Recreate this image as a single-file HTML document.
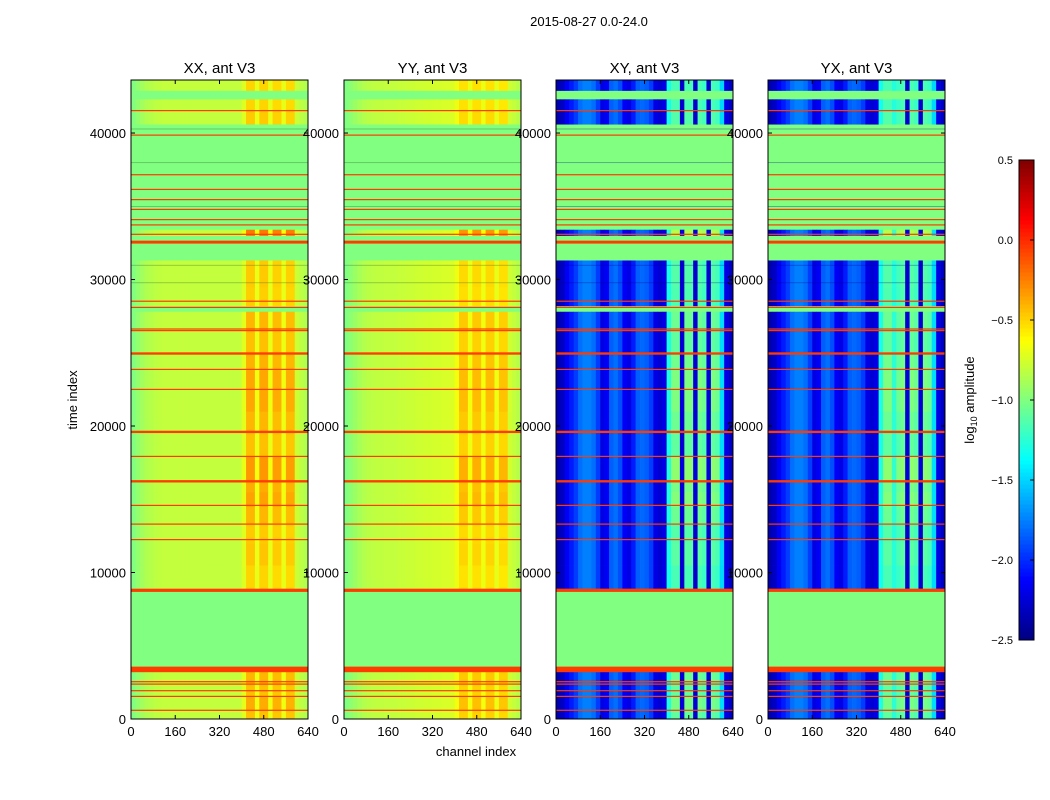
<!DOCTYPE html>
<html><head><meta charset="utf-8"><style>
body{margin:0;background:#fff;}
svg{display:block;font-family:"Liberation Sans",sans-serif;}
</style></head><body>
<svg id="chart" width="1050" height="800" viewBox="0 0 1050 800" xmlns="http://www.w3.org/2000/svg">
<rect width="1050" height="800" fill="#fff"/>
<text x="589" y="26" font-size="13" text-anchor="middle">2015-08-27 0.0-24.0</text>
<text x="476" y="756" font-size="13" text-anchor="middle">channel index</text>
<text x="77" y="400" font-size="13" text-anchor="middle" transform="rotate(-90 77 400)">time index</text>
<g id="panels"></g>
<g id="cbar"></g>
</svg>
<script>
// ---- data ----
const panelTitles = ["XX, ant V3","YY, ant V3","XY, ant V3","YX, ant V3"];
const segStart = [0,600,1500,2400,3600,8900,10500,12000,13300,14500,15500,16200,17900,19600,21000,23800,25000,26500,27800,28200,29500,31300,33000,33400,40600,41500,42300,42900];
const segEnd   = [600,1500,2400,3300,8700,10500,12000,13300,14500,15500,16200,17900,19600,21000,23800,25000,26500,27800,28200,29500,31300,33000,33400,40600,41500,42300,42900,43620];
const segAct   = [0.6,0.8,0.6,0.7,null,0.4,0.55,0.5,0.7,0.9,0.8,1.0,0.6,0.7,0.85,0.75,0.6,0.7,null,0.45,0.5,null,1.3,null,0.5,0.4,null,0.4];
const redLines = [594,1543,1932,2382,2546,3270,3450,8785,12246,13304,14581,16225,17925,19598,22499,23864,24949,26512,26621,28096,28519,32553,33086,33728,34089,34786,35455,36151,37154,39857,41530];
const redWidth = [70,70,70,70,70,150,250,220,70,70,70,160,70,160,70,70,160,70,70,70,70,200,70,70,70,70,70,70,70,70,70];
const darkLines = [31000,29800,35000,38000,40300];
// channel profiles (40 bins of 16 channels): quiet level and hot-column weight
const profXX = [-1.0,-0.95,-0.9,-0.86,-0.84,-0.82,-0.81,-0.8,-0.8,-0.8,-0.8,-0.8,-0.8,-0.8,-0.8,-0.8,-0.8,-0.8,-0.8,-0.8,-0.8,-0.8,-0.8,-0.8,-0.8,-0.75,-0.62,-0.62,-0.72,-0.62,-0.62,-0.72,-0.64,-0.64,-0.72,-0.64,-0.64,-0.8,-0.82,-0.85];
const profYY = [-1.0,-0.96,-0.92,-0.88,-0.85,-0.83,-0.82,-0.81,-0.81,-0.8,-0.8,-0.8,-0.79,-0.79,-0.78,-0.78,-0.77,-0.77,-0.76,-0.76,-0.75,-0.75,-0.74,-0.74,-0.73,-0.7,-0.64,-0.64,-0.7,-0.64,-0.64,-0.7,-0.64,-0.64,-0.72,-0.66,-0.66,-0.78,-0.8,-0.84];
const profXY = [-2.35,-2.3,-2.15,-2.05,-1.95,-1.8,-1.75,-1.75,-1.8,-1.95,-2.2,-2.15,-1.85,-1.8,-1.9,-2.15,-2.2,-2.05,-1.85,-1.82,-1.85,-1.95,-2.2,-2.25,-2.2,-1.35,-1.3,-1.3,-2.3,-1.3,-1.3,-2.3,-1.3,-1.35,-2.3,-1.3,-1.35,-1.5,-2.2,-2.3];
const profYX = [-2.35,-2.3,-2.15,-2.05,-1.95,-1.8,-1.75,-1.75,-1.8,-1.95,-2.2,-2.15,-1.85,-1.8,-1.9,-2.15,-2.2,-2.05,-1.85,-1.82,-1.85,-1.95,-2.2,-2.25,-2.2,-1.35,-1.3,-1.3,-1.3,-1.35,-1.3,-2.3,-1.3,-1.35,-2.3,-1.3,-1.35,-1.5,-2.2,-2.3];
const hotW = [0,0,0,0,0,0,0,0,0,0,0,0,0,0,0,0,0,0,0,0,0,0,0,0,0,0.2,1,1,0.2,1,1,0.2,1,1,0.2,1,1,0.1,0,0];
const hotAmp = [0.3,0.25,0.35,0.35];
const xTicks = [0,160,320,480,640];
const yTicks = [0,10000,20000,30000,40000];
const cbTicks = [0.5,0.0,-0.5,-1.0,-1.5,-2.0,-2.5];
// ---- layout ----
const panelX = [131,344,556,768], PW=177, PT=80, PB=719, TMAX=43620, NCH=640;
const VMIN=-2.5, VMAX=0.5;
const NS="http://www.w3.org/2000/svg";
function jet(v){let n=(v-VMIN)/(VMAX-VMIN);n=Math.max(0,Math.min(1,n));
 const c=x=>Math.round(255*Math.max(0,Math.min(1,x)));
 return `rgb(${c(1.5-Math.abs(4*n-3))},${c(1.5-Math.abs(4*n-2))},${c(1.5-Math.abs(4*n-1))})`;}
const ys=t=>PB-t*(PB-PT)/TMAX;
function mk(tag,attrs,parent){const e=document.createElementNS(NS,tag);for(const k in attrs)e.setAttribute(k,attrs[k]);parent.appendChild(e);return e;}
const profs=[profXX,profYY,profXY,profYX];
const root=document.getElementById('panels');
panelX.forEach((x0,p)=>{
 const xs=c=>x0+c*PW/NCH;
 const g=mk('g',{},root);
 
 
 mk('rect',{x:x0,y:PT,width:PW,height:PB-PT,fill:jet(-1.0)},g);
 const prof=profs[p], nb=prof.length, bw=NCH/nb;
 segStart.forEach((s,i)=>{
  const a=segAct[i]; if(a===null) return;
  const y1=ys(segEnd[i]), y0=ys(s);
  for(let b=0;b<nb;b++){
   const v=prof[b]+hotW[b]*a*hotAmp[p];
   const r=mk('rect',{x:xs(b*bw).toFixed(2),y:y1.toFixed(2),width:(xs((b+1)*bw)-xs(b*bw)+0.3).toFixed(2),height:(y0-y1+0.3).toFixed(2),fill:jet(v)},g);
   
   
  }
 });
 darkLines.forEach(t=>{const l=mk('rect',{x:x0,y:ys(t),width:PW,height:0.7,fill:p>=2?'#00008f':'#2a5a2a',opacity:0.45},g);
  });
 redLines.forEach((t,i)=>{const h=Math.max(1.2,redWidth[i]*(PB-PT)/TMAX);
  const l=mk('rect',{x:x0,y:(ys(t)-h/2).toFixed(2),width:PW,height:h.toFixed(2),fill:jet(-0.05)},g);
  });
 mk('rect',{x:x0,y:PT,width:PW,height:PB-PT,fill:'none',stroke:'#000','stroke-width':1},g);
 const tt=mk('text',{x:x0+PW/2,y:73,'font-size':15,'text-anchor':'middle'},g);tt.textContent=panelTitles[p];
 
 xTicks.forEach(c=>{const X=xs(c);
  mk('line',{x1:X,x2:X,y1:PB,y2:PB-4,stroke:'#000'},g);mk('line',{x1:X,x2:X,y1:PT,y2:PT+4,stroke:'#000'},g);
  const t=mk('text',{x:X,y:PB+17,'font-size':13,'text-anchor':'middle'},g);t.textContent=c;
  });
 yTicks.forEach(v=>{const Y=ys(v);
  mk('line',{x1:x0,x2:x0+4,y1:Y,y2:Y,stroke:'#000'},g);mk('line',{x1:x0+PW,x2:x0+PW-4,y1:Y,y2:Y,stroke:'#000'},g);
  const t=mk('text',{x:x0-5,y:Y+5,'font-size':13,'text-anchor':'end'},g);t.textContent=v;
  });
});
// colorbar
const cb=document.getElementById('cbar');

const CX=1019,CW=15,CT=160,CB=640;
const cy=v=>CB-(v-VMIN)/(VMAX-VMIN)*(CB-CT);
for(let i=0;i<120;i++){const v0=VMIN+i*(VMAX-VMIN)/120,v1=VMIN+(i+1)*(VMAX-VMIN)/120;
 mk('rect',{x:CX,y:cy(v1),width:CW,height:cy(v0)-cy(v1)+0.5,fill:jet((v0+v1)/2)},cb);}
mk('rect',{x:CX,y:CT,width:CW,height:CB-CT,fill:'none',stroke:'#000'},cb);
cbTicks.forEach(v=>{const Y=cy(v);mk('line',{x1:CX+CW-4,x2:CX+CW,y1:Y,y2:Y,stroke:'#000'},cb);
 const t=mk('text',{x:1013,y:Y+4,'font-size':11,'text-anchor':'end'},cb);
 t.textContent=(v<0?'\u2212':'')+Math.abs(v).toFixed(1);
 });
const cl=mk('text',{x:974,y:400,'font-size':13,'text-anchor':'middle',transform:'rotate(-90 974 400)'},cb);
cl.innerHTML='log<tspan font-size="9" dy="3">10</tspan><tspan dy="-3"> amplitude</tspan>';

</script>
</body></html>
